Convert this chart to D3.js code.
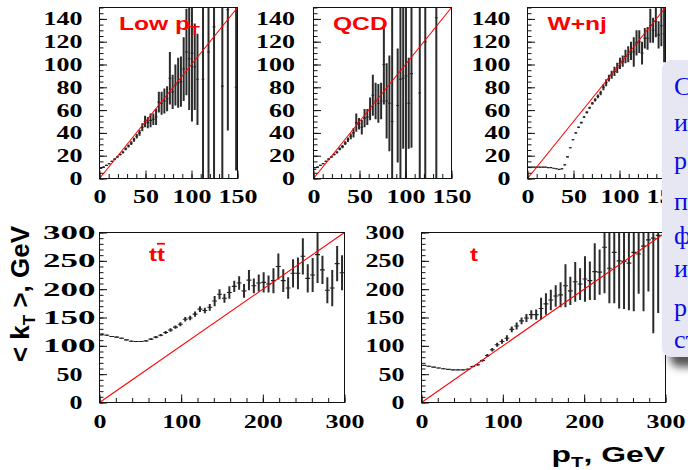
<!DOCTYPE html>
<html>
<head>
<meta charset="utf-8">
<script src="https://cdnjs.cloudflare.com/ajax/libs/d3/7.8.5/d3.min.js"></script>
<style>
  body { margin: 0; background: #fff; }
  svg { display: block; }
</style>
</head>
<body>
<div id="chart"></div>
<script>
// each bin: [pT, <kT>, error]
var lowPtData = [
  [1.5, 9, 0.5], [4.5, 10, 0.5], [7.5, 11.5, 0.5], [10.5, 13, 0.5], [13.5, 15, 0.6],
  [16.5, 17, 0.7], [19.5, 19, 0.8], [22.5, 21, 0.9], [25.5, 23, 1], [28.5, 26, 1.2],
  [31.5, 28.5, 1.4], [34.5, 31, 1.6], [37.5, 34, 1.8], [40.5, 37, 2], [43.5, 40, 2.5],
  [46.5, 45, 3.5], [49.5, 50, 5], [52.5, 49, 5], [55.5, 51, 6], [58.5, 52, 5],
  [61.5, 54, 7], [64.5, 67, 9], [67.5, 66, 10], [70.5, 68, 11], [73.5, 70, 11],
  [76.5, 88, 23], [79.5, 76, 15], [82.5, 82, 18], [85.5, 84, 22], [88.5, 85, 22],
  [91.5, 96, 28], [94.5, 111, 38], [97.5, 105, 45], [100.5, 110, 60], [103.5, 98, 38],
  [106.5, 87, 40], [112.5, 87, 90], [118.5, 111, 120], [124.5, 133, 140], [133.5, 81, 100],
  [139.5, 148, 106], [148.5, 80, 73]
];

var qcdData = [
  [1.5, 8, 0.5], [4.5, 10, 0.5], [7.5, 11.5, 0.5], [10.5, 13, 0.5], [13.5, 15, 0.6],
  [16.5, 17, 0.7], [19.5, 19, 0.8], [22.5, 21, 0.9], [25.5, 23, 1], [28.5, 26, 1.2],
  [31.5, 28, 1.4], [34.5, 31, 1.6], [37.5, 34, 2], [40.5, 37, 2.5], [43.5, 40, 4],
  [46.5, 49, 8], [49.5, 48, 5], [52.5, 45, 6.5], [55.5, 53, 8], [58.5, 54, 7],
  [61.5, 61, 10], [64.5, 73, 18], [67.5, 68, 16], [70.5, 66, 17], [73.5, 68, 16],
  [76.5, 100, 35], [79.5, 68, 33], [82.5, 66, 42], [85.5, 50, 110], [91.5, 64, 50],
  [94.5, 87, 95], [97.5, 88, 62], [100.5, 90, 100], [103.5, 66, 40], [106.5, 92, 65],
  [115.5, 75, 90], [121.5, 120, 130], [133.5, 141, 145]
];

var wnjData = [
  [1.5, 10, 0.3], [4.5, 10, 0.3], [7.5, 10, 0.3], [10.5, 10, 0.3], [13.5, 10, 0.3],
  [16.5, 10, 0.3], [19.5, 10, 0.3], [22.5, 9.5, 0.3], [25.5, 9.5, 0.3], [28.5, 9, 0.3],
  [31.5, 8.5, 0.3], [34.5, 8, 0.3], [37.5, 8.5, 0.4], [40.5, 12, 0.5], [43.5, 19, 0.5],
  [46.5, 27, 0.5], [49.5, 34, 0.5], [52.5, 40, 0.6], [55.5, 45, 0.6], [58.5, 49, 0.7],
  [61.5, 54, 0.8], [64.5, 58, 0.9], [67.5, 62, 1], [70.5, 66, 1.2], [73.5, 69, 1.4],
  [76.5, 72, 1.6], [79.5, 75, 2], [82.5, 80, 2.5], [85.5, 84, 3], [88.5, 88, 3],
  [91.5, 91, 3.5], [94.5, 94, 4], [97.5, 97, 4.5], [100.5, 101, 5], [103.5, 103, 5],
  [106.5, 107, 6], [109.5, 109, 7], [112.5, 112, 8], [115.5, 111, 13], [118.5, 119, 11],
  [121.5, 120, 10], [124.5, 110, 10], [127.5, 123, 9], [130.5, 123, 10], [133.5, 134, 15],
  [136.5, 130, 11], [139.5, 138, 14], [142.5, 126, 12], [145.5, 134, 18], [148.5, 127, 25]
];

var ttbarData = [
  [3, 120.6, 1], [9, 118.8, 1], [15, 116.5, 1], [21, 115.3, 1], [27, 113.5, 1],
  [33, 110.6, 1], [39, 108.2, 1], [45, 107.6, 1], [51, 107.6, 1], [57, 108.8, 1.2],
  [63, 111.8, 1.5], [69, 115.3, 2], [75, 118.8, 2], [81, 123.5, 2.5], [87, 128, 3],
  [93, 133, 3], [99, 138, 3.5], [105, 147, 4], [111, 149, 4], [117, 156, 4.5],
  [123, 164.7, 5], [129, 162.4, 5], [135, 168, 6], [141, 179, 9], [147, 191, 9],
  [153, 184, 8], [159, 194, 11], [165, 205, 10], [171, 211, 12], [177, 197, 12],
  [183, 216, 18], [189, 206, 13], [195, 211, 15], [201, 212, 18], [207, 209, 15],
  [213, 215, 22], [219, 240, 23], [225, 215, 20], [231, 202, 19], [237, 228, 25],
  [243, 228, 28], [249, 258, 32], [255, 219, 25], [261, 225, 30], [267, 261, 50],
  [273, 234, 25], [279, 198, 23], [285, 202, 32], [291, 245, 31], [297, 229, 31]
];

var singleTopData = [
  [3, 65.5, 0.8], [9, 64, 0.8], [15, 62.5, 0.8], [21, 61, 0.8], [27, 59.5, 0.8],
  [33, 58.5, 0.8], [39, 57.6, 0.8], [45, 57.6, 0.8], [51, 57.6, 0.8], [57, 58.8, 1],
  [63, 63.5, 1.2], [69, 66.5, 1.5], [75, 74, 2], [81, 83, 2.5], [87, 93, 3],
  [93, 102, 3.5], [99, 107.6, 4], [105, 113.5, 5], [111, 129, 5], [117, 135, 6],
  [123, 144, 6], [129, 149, 7], [135, 155, 8], [141, 155, 9], [147, 166, 19],
  [153, 174, 19], [159, 181, 18], [165, 188, 19], [171, 190, 22], [177, 206, 38],
  [183, 197, 25], [189, 213, 35], [195, 209, 28], [201, 218, 40], [207, 215, 34],
  [213, 231, 50], [219, 230, 40], [225, 274, 81], [231, 237, 62], [237, 265, 90],
  [243, 250, 84], [249, 249, 84], [255, 246, 83], [261, 265, 104], [267, 262, 70],
  [273, 276, 115], [279, 287, 91], [285, 290, 168], [291, 295, 137], [297, 300, 120]
];

// tick values
var smallMajorY = [0, 20, 40, 60, 80, 100, 120, 140];
var smallMinorY = d3.range(0, 151, 5);
var smallMajorX = [0, 50, 100, 150];
var smallMinorX = d3.range(0, 151, 10);
var bigMajorY = [0, 50, 100, 150, 200, 250, 300];
var bigMinorY = d3.range(0, 301, 10);
var bigMajorX = [0, 100, 200, 300];
var bigMinorX = d3.range(0, 301, 20);

var boxLines = ["С", "и", "р", "п", "ф", "и", "р", "ст"];

var svg = d3.select("#chart").append("svg")
  .attr("width", 688)
  .attr("height", 470);

var defs = svg.append("defs");
defs.append("filter").attr("id", "blur")
  .attr("x", "-50%").attr("y", "-50%").attr("width", "200%").attr("height", "200%")
  .append("feGaussianBlur").attr("stdDeviation", 4);

var panels = [
  { id: "p1", data: lowPtData, title: "Low p", sub: "T", max: 150, bin: 3,
    left: 99.5, right: 237.5, top: 7.5, bottom: 178.5,
    majY: smallMajorY, minY: smallMinorY, majX: smallMajorX, minX: smallMinorX,
    tx: 119, ty: 30 },
  { id: "p2", data: qcdData, title: "QCD", max: 150, bin: 3,
    left: 313.5, right: 451.5, top: 7.5, bottom: 178.5,
    majY: smallMajorY, minY: smallMinorY, majX: smallMajorX, minX: smallMinorX,
    tx: 333, ty: 30 },
  { id: "p3", data: wnjData, title: "W+nj", max: 150, bin: 3,
    left: 527.5, right: 665.5, top: 7.5, bottom: 178.5,
    majY: smallMajorY, minY: smallMinorY, majX: smallMajorX, minX: smallMinorX,
    tx: 547.5, ty: 30 },
  { id: "p4", data: ttbarData, title: "t", bar: "t", max: 300, bin: 6,
    left: 99.5, right: 344.5, top: 232.5, bottom: 402.5,
    majY: bigMajorY, minY: bigMinorY, majX: bigMajorX, minX: bigMinorX,
    tx: 149, ty: 260.7, wide: true },
  { id: "p5", data: singleTopData, title: "t", max: 300, bin: 6,
    left: 421.5, right: 665.5, top: 232.5, bottom: 402.5,
    majY: bigMajorY, minY: bigMinorY, majX: bigMajorX, minX: bigMinorX,
    tx: 470, ty: 260.7 }
];

var labelScale = 1.37;

panels.forEach(function(p) {
  var small = p.max === 150;
  var x = d3.scaleLinear().domain([0, p.max]).range([p.left, p.right]);
  var y = d3.scaleLinear().domain([0, p.max]).range([p.bottom, p.top]);
  var g = svg.append("g");

  defs.append("clipPath").attr("id", "clip-" + p.id)
    .append("rect")
    .attr("x", p.left).attr("y", p.top)
    .attr("width", p.right - p.left).attr("height", p.bottom - p.top);

  var plot = g.append("g").attr("clip-path", "url(#clip-" + p.id + ")");

  plot.selectAll("line.err")
    .data(p.data)
    .enter()
    .append("line")
    .attr("class", "err")
    .attr("x1", d => x(d[0]))
    .attr("x2", d => x(d[0]))
    .attr("y1", d => y(d[1] - d[2]))
    .attr("y2", d => y(d[1] + d[2]))
    .attr("stroke", "#2b2b2b")
    .attr("stroke-width", 2);

  plot.selectAll("line.bin")
    .data(p.data)
    .enter()
    .append("line")
    .attr("class", "bin")
    .attr("x1", d => x(d[0] - p.bin / 2))
    .attr("x2", d => x(d[0] + p.bin / 2))
    .attr("y1", d => y(d[1]))
    .attr("y2", d => y(d[1]))
    .attr("stroke", "#222")
    .attr("stroke-width", 1.1);

  // kT = pT line
  plot.append("line")
    .attr("x1", x(0)).attr("y1", y(0))
    .attr("x2", x(p.max)).attr("y2", y(p.max))
    .attr("stroke", "#ff0000")
    .attr("stroke-width", 1.1);

  // minor ticks
  var minorY = g.append("g")
    .attr("transform", `translate(${p.left},0)`)
    .call(d3.axisLeft(y).tickValues(p.minY).tickSize(-4).tickFormat(""));
  var minorX = g.append("g")
    .attr("transform", `translate(0,${p.bottom})`)
    .call(d3.axisBottom(x).tickValues(p.minX).tickSize(-4.5).tickFormat(""));

  // major ticks with labels
  var yAxis = g.append("g")
    .attr("transform", `translate(${p.left},0)`)
    .call(d3.axisLeft(y).tickValues(p.majY).tickSize(-7.5).tickPadding(17).tickFormat(d3.format("d")));
  var xAxis = g.append("g")
    .attr("transform", `translate(0,${p.bottom})`)
    .call(d3.axisBottom(x).tickValues(p.majX).tickSize(-8).tickPadding(small ? 11 : 12.3).tickFormat(d3.format("d")));

  [minorY, minorX, yAxis, xAxis].forEach(function(a) {
    a.select(".domain").remove();
    a.selectAll("line").attr("stroke", "#111");
  });

  [yAxis, xAxis].forEach(function(a) {
    a.attr("font-family", "'Liberation Serif', 'DejaVu Serif', serif")
      .attr("font-size", 19)
      .attr("font-weight", "bold");
  });

  yAxis.selectAll("text").each(function(d) {
    var t = d3.select(this);
    if (p.wide && String(d).length === 3) {
      var s = 1.84;
      t.attr("text-anchor", "start")
        .attr("x", (43 - p.left) / s)
        .attr("transform", `scale(${s},1)`);
    } else {
      t.attr("x", (+t.attr("x") + (p.id === "p2" ? -1.5 : 0)) / labelScale)
        .attr("transform", `scale(${labelScale},1)`);
    }
  });
  xAxis.selectAll("text").attr("transform", `scale(${labelScale},1)`);

  // frame
  g.append("rect")
    .attr("x", p.left).attr("y", p.top)
    .attr("width", p.right - p.left).attr("height", p.bottom - p.top)
    .attr("fill", "none")
    .attr("stroke", "#111")
    .attr("stroke-width", 1);

  // panel title
  var title = g.append("text")
    .attr("transform", `translate(${p.tx},${p.ty}) scale(1.33,1)`)
    .attr("font-family", "'Liberation Sans', Arial, sans-serif")
    .attr("font-weight", "bold")
    .attr("font-size", small ? 18.5 : 18)
    .attr("fill", "#ff0000");
  title.append("tspan").text(p.title);
  if (p.sub) {
    title.append("tspan").attr("dy", 5).attr("font-size", 12).text(p.sub);
  }
  if (p.bar) {
    title.append("tspan").attr("text-decoration", "overline").text(p.bar);
  }
});

// axis titles
var yTitle = svg.append("text")
  .attr("transform", "translate(29,294) rotate(-90)")
  .attr("text-anchor", "middle")
  .attr("font-family", "'Liberation Sans', Arial, sans-serif")
  .attr("font-weight", "bold")
  .attr("font-size", 26)
  .attr("fill", "#000");
yTitle.append("tspan").text("< k");
yTitle.append("tspan").attr("dy", 6).attr("font-size", 17).text("T");
yTitle.append("tspan").attr("dy", -6).text(" >, GeV");

var xTitle = svg.append("text")
  .attr("transform", "translate(665,461.7) scale(1.45,1)")
  .attr("text-anchor", "end")
  .attr("font-family", "'Liberation Sans', Arial, sans-serif")
  .attr("font-weight", "bold")
  .attr("font-size", 22)
  .attr("fill", "#000");
xTitle.append("tspan").text("p");
xTitle.append("tspan").attr("dy", 5).attr("font-size", 14).text("T");
xTitle.append("tspan").attr("dy", -5).text(", GeV");

// slide text block overlapping the right edge
svg.append("rect")
  .attr("x", 670).attr("y", 70)
  .attr("width", 40).attr("height", 297)
  .attr("rx", 9)
  .attr("fill", "#555")
  .attr("filter", "url(#blur)");
svg.append("rect")
  .attr("x", 662).attr("y", 60)
  .attr("width", 40).attr("height", 297)
  .attr("rx", 9)
  .attr("fill", "#e7e7f4");

var lineY = [95, 131, 169, 210, 244, 277, 316, 348];
svg.append("g")
  .selectAll("text")
  .data(boxLines)
  .enter()
  .append("text")
  .attr("x", 674)
  .attr("y", (d, i) => lineY[i])
  .attr("font-family", "'Liberation Serif', 'DejaVu Serif', serif")
  .attr("font-size", 26)
  .attr("fill", "#0a0ae8")
  .text(d => d);
</script>
</body>
</html>
